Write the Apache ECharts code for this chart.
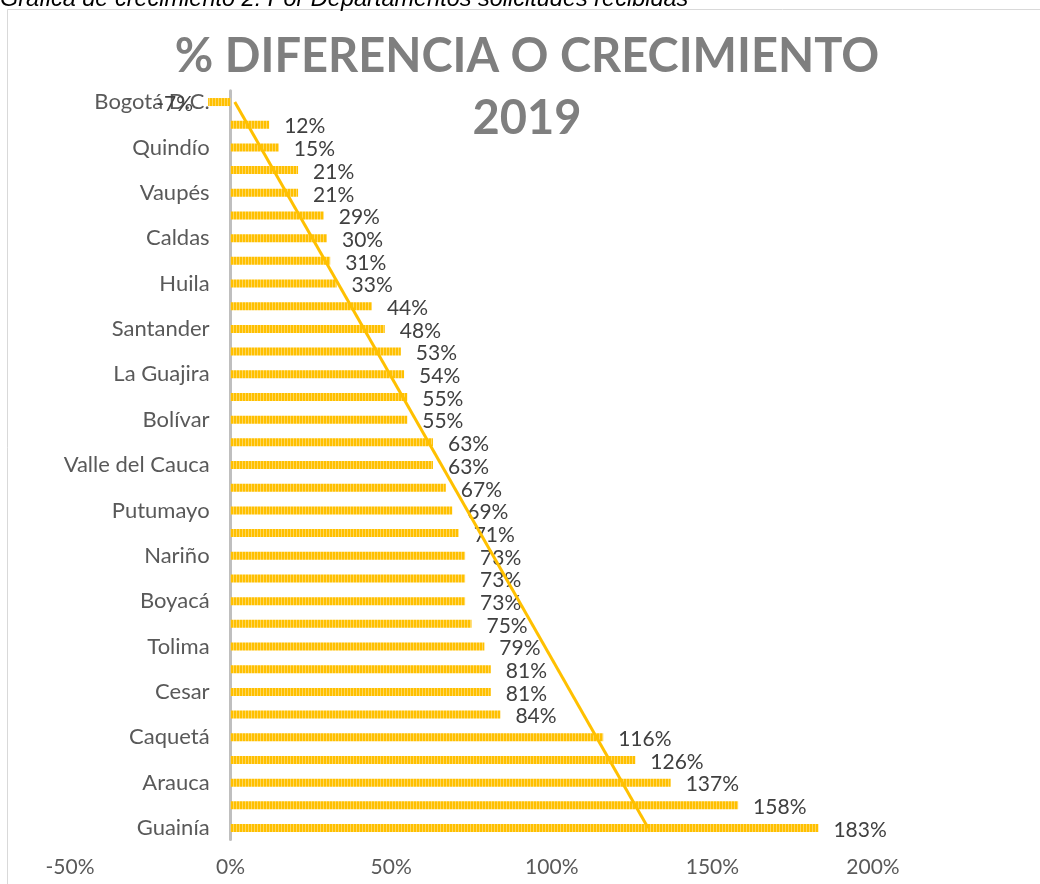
<!DOCTYPE html>
<html><head><meta charset="utf-8">
<script src="https://cdn.jsdelivr.net/npm/echarts@6/dist/echarts.min.js"></script>
<style>html,body{margin:0;padding:0;background:#fff;overflow:hidden}#c{width:1040px;height:884px}</style>
</head><body><div id="c"></div>
<script>
// ---- data ----
const categories = ['Bogotá D.C.','San Andrés','Quindío','Antioquia','Vaupés','Risaralda','Caldas','Cundinamarca','Huila','Atlántico','Santander','Meta','La Guajira','Norte de Santander','Bolívar','Córdoba','Valle del Cauca','Magdalena','Putumayo','Sucre','Nariño','Cauca','Boyacá','Chocó','Tolima','Casanare','Cesar','Amazonas','Caquetá','Guaviare','Arauca','Vichada','Guainía'];
const values = [-7,12,15,21,21,29,30,31,33,44,48,53,54,55,55,63,63,67,69,71,73,73,73,75,79,81,81,84,116,126,137,158,183];
const xTickLabels = [-50,0,50,100,150,200];
const trendEnds = [1.3, 130];
const chartTitle = '% DIFERENCIA O CRECIMIENTO\n2019';
const caption = 'Gráfica de crecimiento 2: Por Departamentos solicitudes recibidas';

// ---- layout ----
const gridLeft = 70, gridWidth = 803;
const xMin = xTickLabels[0], xMax = xTickLabels[xTickLabels.length-1];
const zeroOffset = (0 - xMin) / (xMax - xMin) * gridWidth;

// ---- stripe pattern for bars ----
const pc = document.createElement('canvas');
pc.width = 3; pc.height = 10;
const g = pc.getContext('2d');
g.fillStyle = '#FFC000'; g.fillRect(0,0,3,10);
g.fillStyle = '#FFD75E'; g.fillRect(2,0,1,10);

const chart = echarts.init(document.getElementById('c'), null, {renderer:'canvas'});
const barData = values.map(v => v < 0 ? {value: v, label: {position: 'left'}} : v);

chart.setOption({
  animation: false,
  backgroundColor: '#fff',
  graphic: [
    {type:'rect', shape:{x:7.5, y:9.5, width:1100, height:1000}, style:{fill:'none', stroke:'#D9D9D9', lineWidth:1}, z:0},
    {type:'text', style:{x:0, y:11, text:caption, font:'italic 23.5px "Liberation Sans", Arial, sans-serif', fill:'#000', verticalAlign:'bottom'}},
    {type:'text', style:{x:527, y:26, text:chartTitle, font:'bold 47px Lato, "Open Sans", sans-serif', fill:'#7F7F7F', align:'center', verticalAlign:'top', lineHeight:62}}
  ],
  grid: {left:gridLeft, width:gridWidth, top:90.7, height:748.7, containLabel:false, outerBoundsMode:'none'},
  xAxis: {
    type:'value', min:xMin, max:xMax, interval:xTickLabels[1]-xTickLabels[0],
    axisLine:{show:false}, axisTick:{show:false}, splitLine:{show:false},
    axisLabel:{formatter:'{value}%', color:'#595959', fontFamily:'Lato', fontSize:21, margin:17}
  },
  yAxis: {
    type:'category', data:categories, inverse:true, position:'left', offset:-zeroOffset,
    axisLine:{show:true, onZero:false, lineStyle:{color:'#BFBFBF', width:3}},
    axisTick:{show:false},
    axisLabel:{interval:1, color:'#595959', fontFamily:'Lato', fontSize:22, margin:21}
  },
  series: [
    {type:'bar', data:barData, barWidth:8,
     itemStyle:{color:{image:pc, repeat:'repeat'}},
     label:{show:true, position:'right', distance:15, offset:[0,2], formatter: p => p.value + '%', color:'#404040', fontFamily:'Lato', fontSize:21},
     z:2},
    {type:'line', data:[[trendEnds[0], categories[0]], [trendEnds[1], categories[categories.length-1]]],
     symbol:'none', lineStyle:{color:'#FFC000', width:3}, z:5, silent:true}
  ]
});
</script>
</body></html>
